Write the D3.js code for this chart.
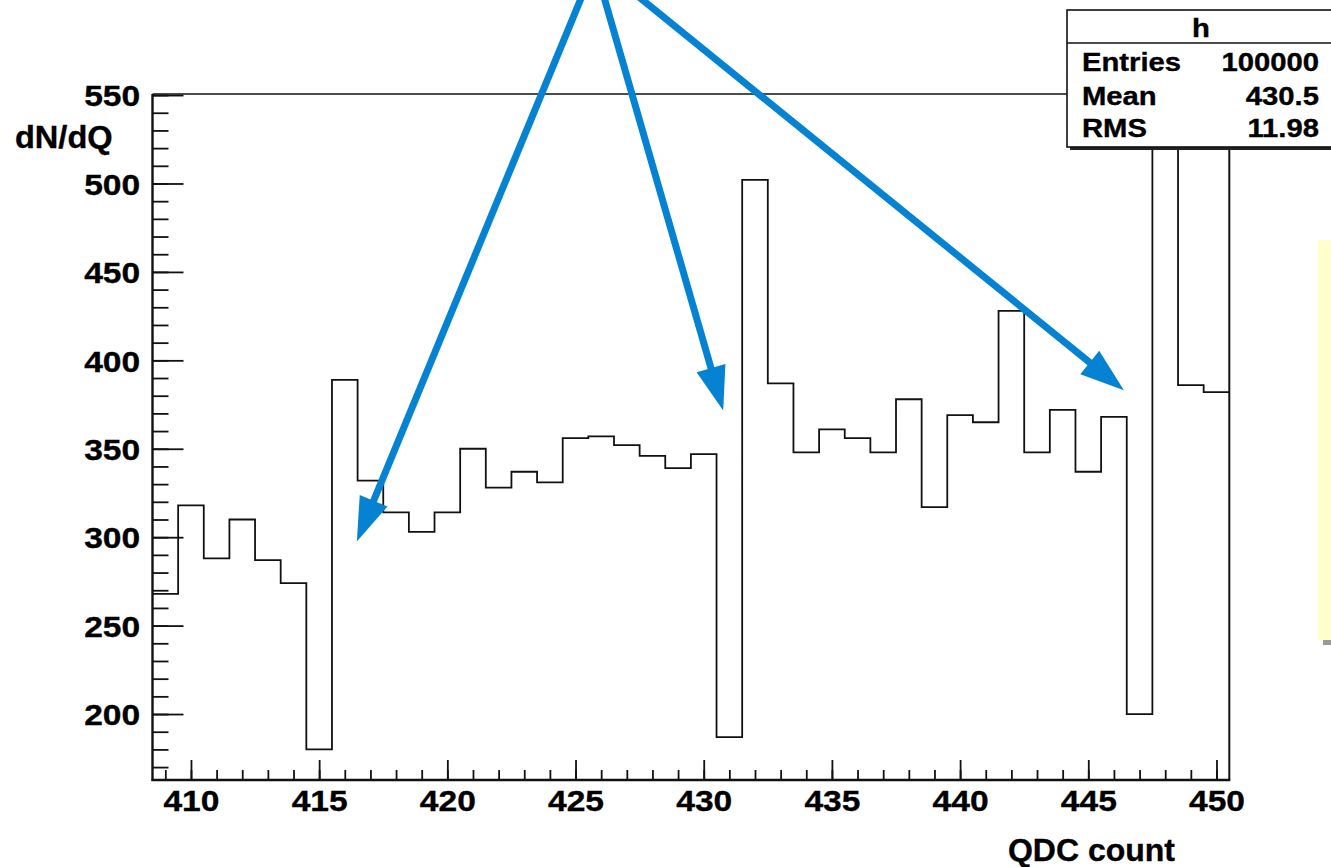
<!DOCTYPE html>
<html>
<head>
<meta charset="utf-8">
<script src="https://cdn.jsdelivr.net/npm/d3@7"></script>
<style>
  html, body { margin: 0; padding: 0; background: #fff; }
  svg { display: block; }
  text { font-family: "Liberation Sans", Arial, Helvetica, sans-serif; font-weight: bold; fill: #000; stroke: #000; stroke-width: 0.35px; }
</style>
</head>
<body>
<svg id="chart" width="1331" height="867"></svg>
<script>
// ---- data ----
const binCenters = [409,410,411,412,413,414,415,416,417,418,419,420,421,422,423,424,425,426,427,428,429,430,
                    431,432,433,434,435,436,437,438,439,440,441,442,443,444,445,446,447,448,449,450];
const binCounts  = [268,318,288,310,287,274,180,389,332,314,303,314,350,328,337,331,356,357,352,346,339,347,
                    187,502,387,348,361,356,348,378,317,369,365,428,348,372,337,368,200,640,386,382];
const xMajorTicks = [410,415,420,425,430,435,440,445,450];
const yMajorTicks = [200,250,300,350,400,450,500,550];
const xTitle = "QDC count";
const yTitle = "dN/dQ";
const statsTitle = "h";
const statsLabels = ["Entries","Mean","RMS"];
const statsValues = ["100000","430.5","11.98"];
// annotation arrows: [startX, startY] -> [tipX, tipY] in data units
const arrowStarts = [[425.68, 621], [425.80, 621], [426.15, 621]];
const arrowTips   = [[416.47, 297.6], [430.76, 371.7], [446.39, 383.1]];

// ---- layout ----
const W = 1331, H = 867;
const frame = {left: 152.5, right: 1229.3, top: 94, bottom: 780};
const svg = d3.select("#chart");
svg.append("rect").attr("width", W).attr("height", H).attr("fill", "#fff");

const x = d3.scaleLinear().domain([408.5, 450.5]).range([frame.left, frame.right]);
const y = d3.scaleLinear().domain([162.7, 550.6]).range([frame.bottom, frame.top]);

svg.append("defs").append("clipPath").attr("id", "frameClip")
  .append("rect").attr("x", frame.left).attr("y", frame.top)
  .attr("width", frame.right - frame.left).attr("height", frame.bottom - frame.top);

// frame top & right lines
svg.append("line").attr("x1", frame.left).attr("x2", frame.right).attr("y1", frame.top).attr("y2", frame.top)
  .attr("stroke", "#111").attr("stroke-width", 1.6);
svg.append("line").attr("x1", frame.right).attr("x2", frame.right).attr("y1", frame.top).attr("y2", frame.bottom)
  .attr("stroke", "#111").attr("stroke-width", 2);

// histogram
const pts = binCenters.map((c, i) => [c - 0.5, binCounts[i]]);
pts.push([binCenters[binCenters.length - 1] + 0.5, binCounts[binCounts.length - 1]]);
const stepLine = d3.line().x(d => x(d[0])).y(d => y(d[1])).curve(d3.curveStepAfter);
svg.append("path").attr("d", stepLine(pts)).attr("fill", "none")
  .attr("stroke", "#111").attr("stroke-width", 1.8).attr("clip-path", "url(#frameClip)");

// y axis
const yMinor = d3.range(170, 551, 10);
svg.append("g").attr("transform", `translate(${frame.left},0)`)
  .call(d3.axisLeft(y).tickValues(yMinor).tickSize(-16).tickFormat(""))
  .call(g => g.select(".domain").remove())
  .call(g => g.selectAll("line").attr("stroke", "#111").attr("stroke-width", 1.8));
svg.append("g").attr("transform", `translate(${frame.left},0)`)
  .call(d3.axisLeft(y).tickValues(yMajorTicks).tickSize(-31).tickPadding(11).tickFormat(d3.format("d")))
  .call(g => g.select(".domain").remove())
  .call(g => g.selectAll("line").attr("stroke", "#111").attr("stroke-width", 1.8))
  .call(g => g.selectAll("text").attr("font-size", 30).attr("font-family", null).attr("dy", "0.36em")
      .attr("transform", "scale(1.12,1)"));
svg.append("line").attr("x1", frame.left).attr("x2", frame.left).attr("y1", frame.top).attr("y2", frame.bottom + 1)
  .attr("stroke", "#111").attr("stroke-width", 2.4);

// x axis
const xMinor = d3.range(409, 451, 1);
svg.append("g").attr("transform", `translate(0,${frame.bottom})`)
  .call(d3.axisBottom(x).tickValues(xMinor).tickSize(-10).tickFormat(""))
  .call(g => g.select(".domain").remove())
  .call(g => g.selectAll("line").attr("stroke", "#111").attr("stroke-width", 1.8));
svg.append("g").attr("transform", `translate(0,${frame.bottom})`)
  .call(d3.axisBottom(x).tickValues(xMajorTicks).tickSize(-20).tickPadding(10).tickFormat(d3.format("d")))
  .call(g => g.select(".domain").remove())
  .call(g => g.selectAll("line").attr("stroke", "#111").attr("stroke-width", 1.8))
  .call(g => g.selectAll("text").attr("font-size", 30).attr("font-family", null)
      .attr("transform", "scale(1.12,1)"));
svg.append("line").attr("x1", frame.left - 1).attr("x2", frame.right + 1).attr("y1", frame.bottom).attr("y2", frame.bottom)
  .attr("stroke", "#111").attr("stroke-width", 2.6);

// axis titles
svg.append("text").attr("transform", "translate(15,148) scale(1.05,1)").attr("font-size", 31).text(yTitle);
svg.append("text").attr("x", 1175).attr("y", 861).attr("text-anchor", "end").attr("font-size", 32).text(xTitle);

// arrows
const blue = "#0583d2";
arrowStarts.forEach((s, i) => {
  const t = arrowTips[i];
  const x0 = x(s[0]), y0 = y(s[1]), x1 = x(t[0]), y1 = y(t[1]);
  const dx = x1 - x0, dy = y1 - y0, L = Math.hypot(dx, dy);
  const ux = dx / L, uy = dy / L, px = -uy, py = ux;
  const headLen = 44, headHalf = 15;
  const bx = x1 - ux * headLen, by = y1 - uy * headLen;
  svg.append("line").attr("x1", x0).attr("y1", y0).attr("x2", bx + ux * 2).attr("y2", by + uy * 2)
    .attr("stroke", blue).attr("stroke-width", 7);
  svg.append("path")
    .attr("d", `M${x1},${y1}L${bx + px * headHalf},${by + py * headHalf}L${bx - px * headHalf},${by - py * headHalf}Z`)
    .attr("fill", blue);
});

// yellow side box (partially visible)
svg.append("rect").attr("x", 1323).attr("y", 640).attr("width", 20).attr("height", 5).attr("fill", "#9a9a9a");
svg.append("rect").attr("x", 1318).attr("y", 240).attr("width", 20).attr("height", 400).attr("fill", "#ffffcc");

// stats box
const sb = {x: 1067, y: 10, w: 280, h: 137};
svg.append("rect").attr("x", sb.x + 3).attr("y", sb.y + 3).attr("width", sb.w).attr("height", sb.h).attr("fill", "#222");
svg.append("rect").attr("x", sb.x).attr("y", sb.y).attr("width", sb.w).attr("height", sb.h)
  .attr("fill", "#fff").attr("stroke", "#111").attr("stroke-width", 1.6);
svg.append("line").attr("x1", sb.x).attr("x2", sb.x + sb.w).attr("y1", 43).attr("y2", 43)
  .attr("stroke", "#111").attr("stroke-width", 1.6);
svg.append("text").attr("transform", "translate(1201,37) scale(1.17,1)").attr("text-anchor", "middle")
  .attr("font-size", 25).text(statsTitle);
const rowBase = [71, 105, 137];
statsLabels.forEach((lab, i) => {
  svg.append("text").attr("transform", `translate(1082,${rowBase[i]}) scale(1.17,1)`).attr("font-size", 25).text(lab);
  svg.append("text").attr("transform", `translate(1319,${rowBase[i]}) scale(1.17,1)`).attr("text-anchor", "end")
    .attr("font-size", 25).text(statsValues[i]);
});
</script>
</body>
</html>
